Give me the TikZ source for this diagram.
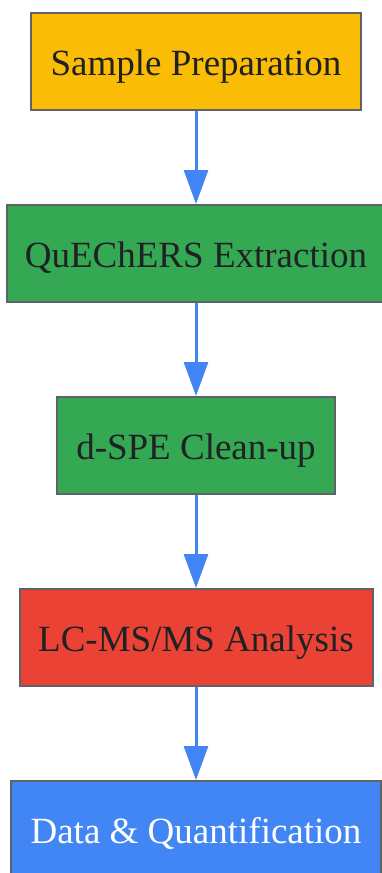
\documentclass[tikz,border=0pt]{standalone}
\usepackage{fontspec}
\setmainfont{Liberation Serif}
\usetikzlibrary{arrows.meta}
\definecolor{cyellow}{HTML}{FBBC05}
\definecolor{cgreen}{HTML}{34A853}
\definecolor{cred}{HTML}{EA4335}
\definecolor{cblue}{HTML}{4285F4}
\definecolor{cborder}{HTML}{5F6368}
\definecolor{ctext}{HTML}{202124}
\tikzset{
  stepbox/.style={draw=cborder, line width=2pt, rectangle, inner sep=0pt,
    minimum height=97pt, text height=27pt, text depth=0pt, text=ctext,
    font=\fontsize{37}{44}\selectfont},
  flow/.style={draw=cblue, line width=3pt, -{Triangle[length=34pt,width=24pt]}}
}
\begin{document}
\begin{tikzpicture}[x=1pt,y=-1pt]
\useasboundingbox (0,0) rectangle (382,873);
\node[stepbox, fill=cyellow, minimum width=330pt] (s1) at (196,61.5) {Sample Preparation};
\node[stepbox, fill=cgreen, minimum width=378pt] (s2) at (196,253.5) {QuEChERS Extraction};
\node[stepbox, fill=cgreen, minimum width=278pt] (s3) at (196,445.5) {d-SPE Clean-up};
\node[stepbox, fill=cred, minimum width=353pt] (s4) at (196,637.5) {LC-MS/MS Analysis};
\node[stepbox, fill=cblue, minimum width=370pt, text=white] (s5) at (196,829.5) {Data \& Quantification};
\draw[flow] (s1.south) -- (s2.north);
\draw[flow] (s2.south) -- (s3.north);
\draw[flow] (s3.south) -- (s4.north);
\draw[flow] (s4.south) -- (s5.north);
\end{tikzpicture}
\end{document}
